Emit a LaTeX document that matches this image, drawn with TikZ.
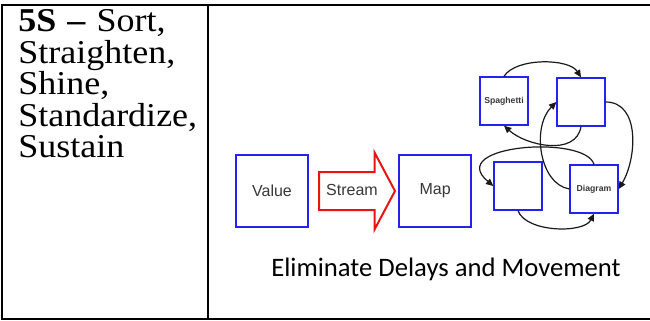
\documentclass[tikz,border=0pt]{standalone}
\usepackage{fontspec}
\setmainfont{Liberation Serif}[FakeStretch=1.08]
\newfontfamily\arialfont{Liberation Sans}
\newfontfamily\calibrifont{Carlito}
\usetikzlibrary{shapes.arrows, arrows.meta, positioning}
\definecolor{mapblue}{RGB}{35,35,235}
\definecolor{streamred}{RGB}{232,20,20}
\definecolor{labelgray}{RGB}{55,55,55}
\definecolor{walkgray}{RGB}{25,25,25}
\tikzset{
  mapbox/.style={
    rectangle, draw=mapblue, line width=1.5pt, minimum width=54pt,
    minimum height=54pt, inner sep=0pt, text centered,
    font=\arialfont\fontsize{12}{14}\selectfont, text=labelgray
  },
  spagbox/.style={
    rectangle, draw=mapblue, line width=1pt, minimum size=36pt,
    inner sep=0pt, text centered,
    font=\arialfont\bfseries\fontsize{6.5}{8}\selectfont, text=labelgray
  },
  streamarrow/.style={
    single arrow, draw=streamred, line width=1.5pt, minimum height=57pt,
    single arrow head extend=14.6pt, single arrow tip angle=124,
    single arrow head indent=0pt, text height=8pt, text depth=1pt,
    inner ysep=9pt, inner xsep=1pt,
    font=\arialfont\fontsize{12}{14}\selectfont, text=labelgray
  },
  walk/.style={-{Triangle[length=5.5pt,width=5pt]}, line width=0.9pt, color=walkgray},
  tablerule/.style={line width=1.5pt, color=black}
}
\begin{document}
\begin{tikzpicture}[x=0.75pt, y=-0.75pt]
  \useasboundingbox (0,0) rectangle (650,321);

  % Table
  \draw[tablerule] (650,5) -- (2,5) -- (2,319) -- (650,319);
  \draw[tablerule] (208,5) -- (208,319);

  % Left cell
  \node[anchor=base west, inner sep=0pt, text width=145pt, align=left,
        font=\fontsize{25}{23.6}\selectfont] (fives) at (18,32)
    {\textbf{5S --} Sort,\\Straighten,\\Shine,\\Standardize,\\Sustain};

  % Value stream map
  \node[mapbox] (value) at (272,191) {Value};
  \node[streamarrow, right=6.75pt of value] (stream) {Stream};
  \node[mapbox, right=1.5pt of stream] (map) {Map};

  % Spaghetti diagram
  \node[spagbox] (spag) at (504,101) {Spaghetti};
  \node[spagbox] (topr) at (581,102) {};
  \node[spagbox] (botl) at (518,186) {};
  \node[spagbox] (diag) at (594,189) {Diagram};

  \draw[walk] (spag.north) .. controls +(12,-19) and +(-12,-19) .. (topr.north);
  \draw[walk] (topr.east) .. controls +(35,0) and +(18,-30) .. (diag.east);
  \draw[walk] (topr.south) .. controls +(-5,30) and +(22,20) .. (spag.south);
  \draw[walk] (diag.north) .. controls +(-9,-30) and +(-49,-41) .. (botl.west);
  \draw[walk] (diag.west) .. controls +(-30,-5) and +(-25,25) .. (topr.west);
  \draw[walk] (botl.south) .. controls +(8,22) and +(-10,20) .. (diag.south);

  % Caption
  \node[anchor=base, inner sep=0pt, font=\calibrifont\fontsize{20}{24}\selectfont]
    (caption) at (446,276) {Eliminate Delays and Movement};
\end{tikzpicture}
\end{document}
